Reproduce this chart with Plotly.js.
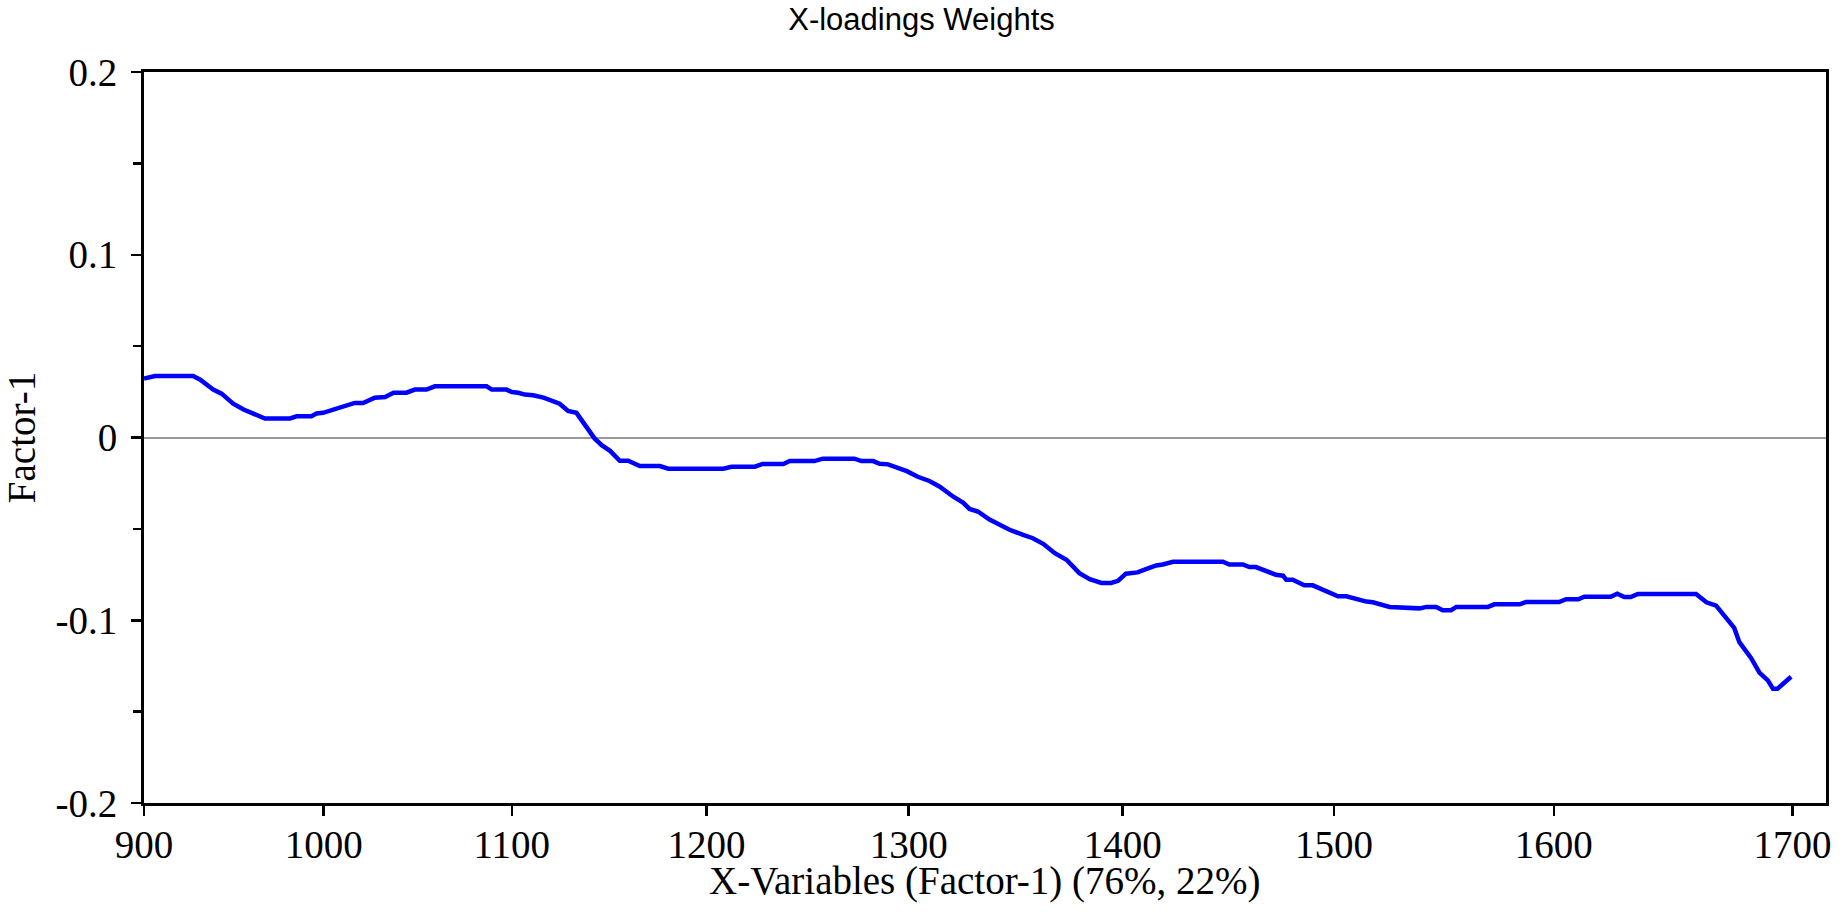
<!DOCTYPE html>
<html>
<head>
<meta charset="utf-8">
<script src="https://cdn.plot.ly/plotly-3.0.1.min.js"></script>
<style>html,body{margin:0;padding:0;background:#fff;}#chart{width:1843px;height:921px;}</style>
</head>
<body>
<div id="chart"></div>
<script>
// Variable (channel) index along the spectrum; wavelength tick labels are non-uniformly spaced
var channel = [0,1.7,7.6,8.7,10.7,12.0,13.8,15.4,16.9,18.7,22.6,23.6,25.9,26.7,27.7,29.8,30.8,32.6,33.9,35.7,37.3,38.6,40.6,41.9,43.7,45.0,53.0,53.8,56.1,56.9,57.9,58.9,60.2,61.8,64.3,65.6,66.9,68.5,69.7,70.8,72.1,73.6,74.9,76.7,79.8,81.1,89.6,90.9,94.5,95.7,98.9,99.9,103.7,105.0,109.9,111.0,112.8,113.8,115.1,118.0,119.7,121.5,123.1,125.2,126.7,127.7,129.0,130.8,132.4,133.9,136.0,137.5,139.1,140.9,142.7,144.7,146.3,148.1,149.6,150.7,151.9,153.7,155.0,156.6,157.6,159.2,166.9,167.9,170.0,171.0,172.0,173.9,175.1,176.2,176.7,177.7,179.5,180.8,182.9,184.7,186.0,187.0,189.1,190.1,192.7,197.3,198.4,199.9,200.9,202.2,203.0,207.9,208.9,212.8,213.8,218.9,220.0,221.9,222.8,226.9,227.9,229.0,230.0,231.1,240.1,241.7,243.2,246.0,246.8,248.6,249.9,251.2,252.0,252.7,254.8];
var loading = [0.0322,0.0336,0.0336,0.0316,0.0262,0.024,0.0185,0.0153,0.0131,0.0104,0.0104,0.0116,0.0116,0.0131,0.0135,0.0158,0.0164,0.0189,0.0189,0.0218,0.0222,0.0245,0.0245,0.0262,0.0262,0.028,0.028,0.0262,0.0262,0.0249,0.0245,0.0235,0.0231,0.0218,0.0185,0.0145,0.0135,0.0058,-0.0005,-0.0042,-0.0073,-0.0127,-0.0127,-0.0156,-0.0156,-0.0171,-0.0171,-0.016,-0.016,-0.0145,-0.0145,-0.0129,-0.0129,-0.0116,-0.0116,-0.0129,-0.0129,-0.0144,-0.0147,-0.0184,-0.0215,-0.0238,-0.0269,-0.0324,-0.0356,-0.0391,-0.0405,-0.0449,-0.048,-0.0505,-0.0533,-0.0551,-0.0582,-0.0633,-0.0669,-0.0742,-0.0775,-0.0796,-0.0796,-0.0784,-0.0745,-0.0738,-0.072,-0.07,-0.0695,-0.068,-0.068,-0.0695,-0.0695,-0.0709,-0.0709,-0.0736,-0.0751,-0.0756,-0.0778,-0.0778,-0.0809,-0.0809,-0.0838,-0.0869,-0.0869,-0.088,-0.0898,-0.0902,-0.0927,-0.0935,-0.0927,-0.0927,-0.0945,-0.0945,-0.0927,-0.0927,-0.0913,-0.0913,-0.09,-0.09,-0.0885,-0.0885,-0.0871,-0.0871,-0.0855,-0.0873,-0.0873,-0.0856,-0.0856,-0.0902,-0.092,-0.1042,-0.112,-0.1206,-0.1287,-0.1329,-0.1375,-0.1375,-0.1309];

var xTickLabels = ['900','1000','1100','1200','1300','1400','1500','1600','1700'];
var xTickChannel = [0,27.8,56.9,87.0,118.3,151.4,184.1,218.1,255.0];
var yTickVals = [-0.2,-0.1,0,0.1,0.2];
var yTickText = ['-0.2','-0.1','0','0.1','0.2'];

var serif = 'Liberation Serif, Times New Roman, serif';

var trace = {
  x: channel, y: loading, type: 'scatter', mode: 'lines',
  line: {color: '#0000ff', width: 4.5}, hoverinfo: 'skip'
};

var layout = {
  width: 1843, height: 921,
  margin: {l: 144, r: 17, t: 72, b: 118},
  paper_bgcolor: '#fff', plot_bgcolor: '#fff',
  showlegend: false,
  title: {
    text: 'X-loadings Weights',
    font: {family: 'Liberation Sans, Arial, sans-serif', size: 31, color: '#000'},
    xref: 'container', x: 0.5, xanchor: 'center',
    yref: 'container', y: 0.979, yanchor: 'middle'
  },
  xaxis: {
    range: [0, 260.2],
    tickmode: 'array', tickvals: xTickChannel, ticktext: xTickLabels,
    ticks: 'outside', ticklen: 10, tickwidth: 2.5, tickcolor: '#000',
    showline: true, linecolor: '#000', linewidth: 3, mirror: true,
    showgrid: false, zeroline: false,
    tickfont: {family: serif, size: 39, color: '#000'},
    ticklabelstandoff: -5
  },
  yaxis: {
    range: [-0.2, 0.2],
    tickmode: 'array', tickvals: yTickVals, ticktext: yTickText,
    ticks: 'outside', ticklen: 10, tickwidth: 2.5, tickcolor: '#000',
    minor: {tickmode: 'linear', tick0: 0, dtick: 0.05, ticks: 'outside', ticklen: 8, tickwidth: 2.5, tickcolor: '#000', showgrid: false},
    showline: true, linecolor: '#000', linewidth: 3, mirror: true,
    showgrid: false,
    zeroline: true, zerolinecolor: '#999999', zerolinewidth: 2,
    tickfont: {family: serif, size: 39, color: '#000'},
    ticklabelstandoff: 6,
    title: {text: 'Factor-1', font: {family: serif, size: 39, color: '#000'}, standoff: 15}
  },
  annotations: [{
    text: 'X-Variables (Factor-1) (76%, 22%)',
    xref: 'paper', x: 0.5, xanchor: 'center',
    yref: 'paper', y: -0.107, yanchor: 'middle',
    showarrow: false,
    font: {family: serif, size: 39, color: '#000'}
  }]
};

Plotly.newPlot('chart', [trace], layout, {staticPlot: true, displayModeBar: false});
</script>
</body>
</html>
